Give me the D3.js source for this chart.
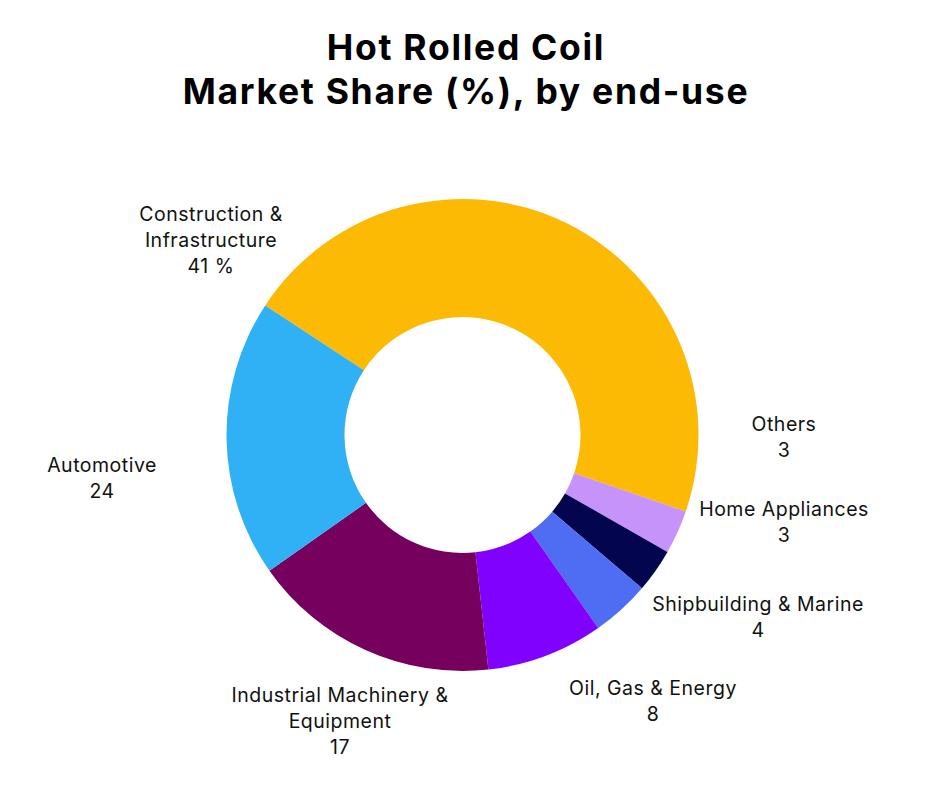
<!DOCTYPE html>
<html><head><meta charset="utf-8">
<script src="https://cdn.jsdelivr.net/npm/d3@7"></script>
<style>body{margin:0;background:#fff}</style></head>
<body><svg id="c" width="926" height="805"></svg>
<script>
const categories = ["Construction & Infrastructure","Others","Home Appliances","Shipbuilding & Marine","Oil, Gas & Energy","Industrial Machinery & Equipment","Automotive"];
// drawn slice shares
const values = [46,3,3,4,8,17,19];
// label texts as printed in the picture
const labelLines = [["Construction &","Infrastructure","41 %"],["Others","3"],["Home Appliances","3"],["Shipbuilding & Marine","4"],["Oil, Gas & Energy","8"],["Industrial Machinery &","Equipment","17"],["Automotive","24"]];
const colors = ["#FDBA04","#C693FA","#03054F","#4F6DF2","#8001FE","#76005E","#30B0F5"];
const labelPos = [[211,214],[784,424],[784,509],[758,604],[653,688],[340,695],[102,465]];

const svg = d3.select("#c");
const cx=462.5, cy=435, R=236, r=118;
[["Hot Rolled Coil",60],["Market Share (%), by end-use",104]].forEach(([t,y])=>
  svg.append("text").attr("x",466).attr("y",y).attr("text-anchor","middle")
    .style("font-family","Inter").style("font-weight",700).style("font-size","35.5px").style("letter-spacing","1.7px").attr("fill","#000").text(t));

const start = -56.7*Math.PI/180;
const pie = d3.pie().sort(null).startAngle(start).endAngle(start+2*Math.PI);
const arc = d3.arc().innerRadius(r).outerRadius(R);
const g = svg.append("g").attr("transform",`translate(${cx},${cy})`);
g.selectAll("path").data(pie(values)).join("path").attr("d",arc).attr("fill",(d,i)=>colors[i]);

const lg = svg.append("g");
labelLines.forEach((lines,i)=>{
  const t = lg.append("text").attr("text-anchor","middle").style("font-family","Inter").style("font-size","19.5px").style("letter-spacing","0.5px").attr("fill","#111");
  lines.forEach((l,j)=>t.append("tspan").attr("x",labelPos[i][0]).attr("y",labelPos[i][1]+7+j*26).text(l));
});
</script></body></html>
